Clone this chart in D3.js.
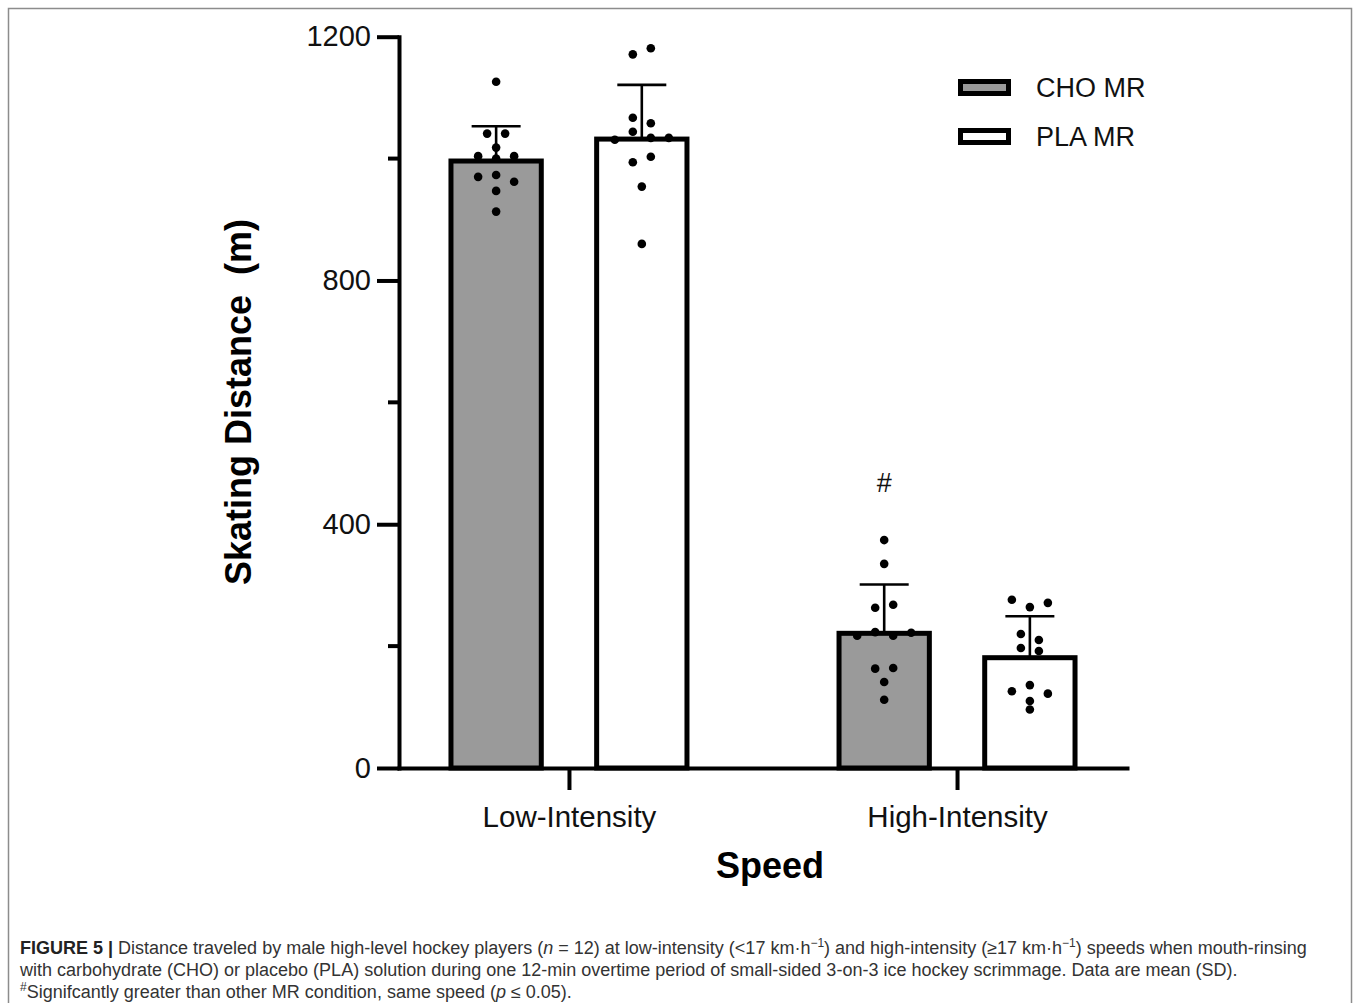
<!DOCTYPE html>
<html>
<head>
<meta charset="utf-8">
<script src="https://cdn.jsdelivr.net/npm/d3@7"></script>
<style>
  body { margin: 0; background: #fff; }
  svg { display: block; font-family: "Liberation Sans", Arial, Helvetica, sans-serif; }
</style>
</head>
<body>
<svg id="chart" width="1358" height="1003"></svg>
<script>
"use strict";

// x groups and the two mouth-rinse conditions
var speeds = ["Low-Intensity", "High-Intensity"];
var conditions = ["CHO MR", "PLA MR"];
var yTicks = [0, 400, 800, 1200];
var yMinorTicks = [200, 600, 1000];

// bar heights and SD, [speed][condition]
var means = [[996, 1032], [221, 181]];
var sds = [[57, 89], [80, 68]];

// individual players (n = 12), in plotted order
var lowCho = [1126, 1041, 1041, 1018, 1004, 1000, 1004, 970, 973, 962, 947, 913];
var lowPla = [1171, 1181, 1067, 1058, 1031, 1044, 1034, 1034, 994, 1003, 954, 860];
var highCho = [374, 335, 263, 268, 217, 223, 217, 222, 163, 164, 141, 112];
var highPla = [276, 264, 271, 220, 210, 197, 192, 126, 136, 122, 110, 96];
var players = [[lowCho, lowPla], [highCho, highPla]];

var svg = d3.select("#chart");

var y = d3.scaleLinear().domain([0, 1200]).range([768, 36.7]);
var x0 = d3.scalePoint().domain(speeds).range([399, 1127]).padding(0.438);
var x1 = d3.scaleBand().domain(conditions).range([-118, 118]).paddingInner(0.38);
var fill = d3.scaleOrdinal().domain(conditions).range(["#9a9a9a", "#fff"]);

// figure frame
svg.append("rect")
    .attr("x", 8.5).attr("y", 8.5)
    .attr("width", 1343).attr("height", 1005)
    .attr("fill", "none")
    .attr("stroke", "#8c8c8c")
    .attr("stroke-width", 1.5);

// one record per bar
var cells = [];
speeds.forEach(function(s, i) {
  conditions.forEach(function(c, j) {
    cells.push({speed: s, cond: c, mean: means[i][j], sd: sds[i][j], pts: players[i][j]});
  });
});

function cx(d) { return x0(d.speed) + x1(d.cond) + x1.bandwidth() / 2; }

// bars
svg.append("g")
  .selectAll("rect")
  .data(cells)
  .join("rect")
    .attr("x", function(d) { return x0(d.speed) + x1(d.cond); })
    .attr("y", function(d) { return y(d.mean); })
    .attr("width", x1.bandwidth())
    .attr("height", function(d) { return y(0) - y(d.mean); })
    .attr("fill", function(d) { return fill(d.cond); })
    .attr("stroke", "#000")
    .attr("stroke-width", 5);

// upper SD bars
var err = svg.append("g").attr("stroke", "#000").attr("stroke-width", 2.6);
err.selectAll(".stem")
  .data(cells)
  .join("line")
    .attr("class", "stem")
    .attr("x1", cx).attr("x2", cx)
    .attr("y1", function(d) { return y(d.mean); })
    .attr("y2", function(d) { return y(d.mean + d.sd); });
err.selectAll(".cap")
  .data(cells)
  .join("line")
    .attr("class", "cap")
    .attr("x1", function(d) { return cx(d) - 24.5; })
    .attr("x2", function(d) { return cx(d) + 24.5; })
    .attr("y1", function(d) { return y(d.mean + d.sd); })
    .attr("y2", function(d) { return y(d.mean + d.sd); });

// scatter: close values share a row, spread symmetrically
function swarm(values, centre) {
  var order = d3.range(values.length).sort(function(a, b) {
    return d3.descending(values[a], values[b]) || a - b;
  });
  var rows = [], row = null;
  order.forEach(function(i) {
    var py = y(values[i]);
    if (!row || py - row.last > 7 || py - row.first > 10) {
      row = {first: py, last: py, idx: []};
      rows.push(row);
    }
    row.last = py;
    row.idx.push(i);
  });
  var out = [];
  rows.forEach(function(r) {
    r.idx.sort(d3.ascending).forEach(function(i, k) {
      out.push({x: centre + (k - (r.idx.length - 1) / 2) * 18, y: y(values[i])});
    });
  });
  return out;
}

svg.append("g")
  .selectAll("g")
  .data(cells)
  .join("g")
  .selectAll("circle")
  .data(function(d) { return swarm(d.pts, cx(d)); })
  .join("circle")
    .attr("cx", function(p) { return p.x; })
    .attr("cy", function(p) { return p.y; })
    .attr("r", 4.3)
    .attr("fill", "#000");

// significance mark over high-intensity CHO
svg.append("text")
    .attr("x", cx(cells[2]))
    .attr("y", y(d3.max(highCho)) - 48)
    .attr("text-anchor", "middle")
    .attr("font-size", 27)
    .attr("fill", "#111")
    .text("#");

// y axis
var yAxis = svg.append("g")
    .attr("transform", "translate(399,0)")
    .call(d3.axisLeft(y).tickValues(yTicks).tickSize(22).tickSizeOuter(0).tickPadding(6).tickFormat(d3.format("d")))
    .attr("font-size", null)
    .attr("font-family", null);
yAxis.select(".domain").attr("stroke-width", 4).attr("stroke-linecap", "square");
yAxis.selectAll(".tick line").attr("stroke-width", 4);
yAxis.selectAll(".tick text").attr("font-size", 29).attr("fill", "#111");
yAxis.selectAll(".minor")
  .data(yMinorTicks)
  .join("line")
    .attr("class", "minor")
    .attr("x1", 0).attr("x2", -11)
    .attr("y1", y).attr("y2", y)
    .attr("stroke", "#000")
    .attr("stroke-width", 4);

// x axis
var xAxis = svg.append("g")
    .attr("transform", "translate(0,768)")
    .call(d3.axisBottom(x0).tickSize(22).tickSizeOuter(0).tickPadding(16))
    .attr("font-size", null)
    .attr("font-family", null);
xAxis.select(".domain").attr("stroke-width", 4).attr("stroke-linecap", "square");
xAxis.selectAll(".tick line").attr("stroke-width", 4);
xAxis.selectAll(".tick text").attr("font-size", 29.5).attr("fill", "#111");

// axis titles
svg.append("text")
    .attr("transform", "translate(251,402) rotate(-90)")
    .attr("text-anchor", "middle")
    .attr("font-size", 36)
    .attr("font-weight", "bold")
    .style("white-space", "pre")
    .text("Skating Distance  (m)");

svg.append("text")
    .attr("x", 770).attr("y", 878)
    .attr("text-anchor", "middle")
    .attr("font-size", 36)
    .attr("font-weight", "bold")
    .text("Speed");

// legend
var legend = svg.append("g")
  .selectAll("g")
  .data(conditions)
  .join("g")
    .attr("transform", function(d, i) { return "translate(0," + i * 49 + ")"; });
legend.append("rect")
    .attr("x", 960.5).attr("y", 81.5)
    .attr("width", 48).attr("height", 12)
    .attr("fill", fill)
    .attr("stroke", "#000")
    .attr("stroke-width", 5);
legend.append("text")
    .attr("x", 1036).attr("y", 97)
    .attr("font-size", 27)
    .attr("fill", "#111")
    .text(function(d) { return d; });

// caption
var capLines = [
  [{t: "FIGURE 5 |", b: true}, {t: " Distance traveled by male high-level hockey players ("}, {t: "n", i: true},
   {t: " = 12) at low-intensity (<17 km·h"}, {t: "−1", sup: true}, {t: ") and high-intensity (≥17 km·h"},
   {t: "−1", sup: true}, {t: ") speeds when mouth-rinsing"}],
  [{t: "with carbohydrate (CHO) or placebo (PLA) solution during one 12-min overtime period of small-sided 3-on-3 ice hockey scrimmage. Data are mean (SD)."}],
  [{t: "#", sup: true}, {t: "Signifcantly greater than other MR condition, same speed ("}, {t: "p", i: true}, {t: " ≤ 0.05)."}]
];

var caption = svg.append("g")
    .attr("font-size", 18)
    .attr("fill", "#333")
    .style("white-space", "pre");
capLines.forEach(function(parts, li) {
  var txt = caption.append("text").attr("x", 20).attr("y", 954 + li * 22);
  var raised = false;
  parts.forEach(function(p) {
    var ts = txt.append("tspan").text(p.t);
    if (p.b) ts.attr("font-weight", "bold").attr("fill", "#222");
    if (p.i) ts.attr("font-style", "italic");
    if (p.sup) {
      ts.attr("font-size", 12).attr("dy", -7);
      raised = true;
    } else if (raised) {
      ts.attr("dy", 7);
      raised = false;
    }
  });
});
</script>
</body>
</html>
